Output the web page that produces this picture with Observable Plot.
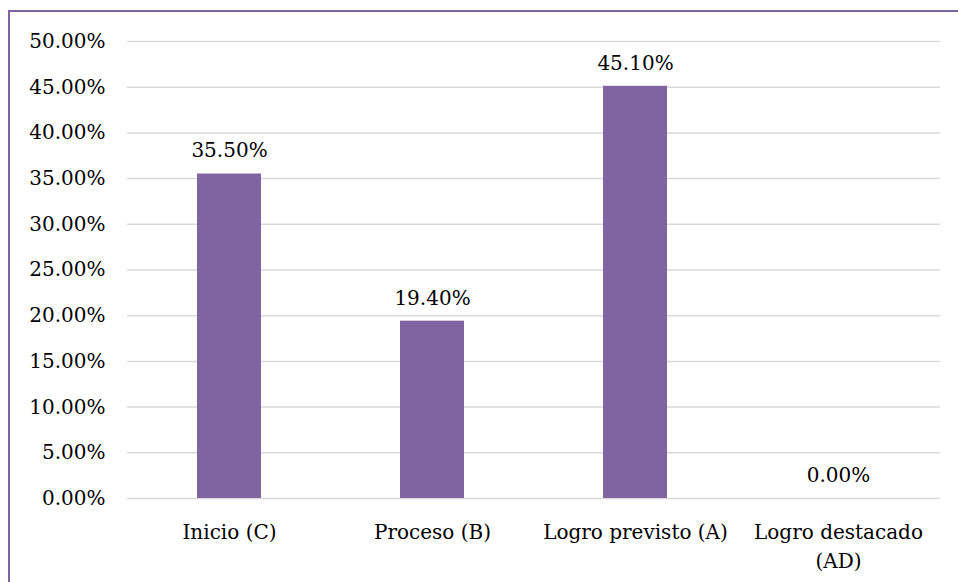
<!DOCTYPE html>
<html>
<head>
<meta charset="utf-8">
<script src="https://cdn.jsdelivr.net/npm/d3@7"></script>
<script src="https://cdn.jsdelivr.net/npm/@observablehq/plot@0.6"></script>
<style>
  html, body { margin: 0; padding: 0; background: #fff; }
  #wrap { position: relative; width: 958px; height: 582px; overflow: hidden; }
  #frame { position: absolute; left: 8px; top: 10px; width: 1000px; height: 700px;
           border-left: 2.5px solid #8064A2; border-top: 2.5px solid #8064A2; box-sizing: border-box; }
  #chart { position: absolute; left: 0; top: 0; }
</style>
</head>
<body>
<div id="wrap">
  <div id="frame"></div>
  <div id="chart"></div>
</div>
<script>
const categories = ["Inicio (C)", "Proceso (B)", "Logro previsto (A)", "Logro destacado\n(AD)"];
const values = [0.355, 0.194, 0.451, 0.0];
const yTicks = [0, 0.05, 0.10, 0.15, 0.20, 0.25, 0.30, 0.35, 0.40, 0.45, 0.50];

const data = categories.map((c, i) => ({category: c, value: values[i]}));
const pct = d3.format(".2%");
const font = "'DejaVu Serif', serif";

const chart = Plot.plot({
  width: 958,
  height: 582,
  marginLeft: 127,
  marginRight: 18,
  marginTop: 41,
  marginBottom: 84,
  style: {fontFamily: font, fontSize: "20px", color: "#000", background: "transparent"},
  x: {domain: categories, paddingInner: 0.685, paddingOuter: 0.3425, label: null},
  y: {domain: [0, 0.5], label: null},
  marks: [
    Plot.gridY(yTicks, {stroke: "#d9d9d9", strokeOpacity: 1, strokeWidth: 1.5}),
    Plot.axisY(yTicks, {tickFormat: pct, tickSize: 0, tickPadding: 22, fontSize: 20, fill: "#000", label: null}),
    Plot.axisX({tickSize: 0, tickPadding: 0, fontSize: 20, fill: "#000", lineHeight: 1.45, dy: 20, label: null, textAnchor: "middle"}),
    Plot.barY(data, {x: "category", y: "value", fill: "#8064A2"}),
    Plot.text(data, {x: "category", y: "value", text: d => pct(d.value), dy: -23, fontSize: 20, fill: "#000", lineAnchor: "middle"})
  ]
});
document.getElementById("chart").appendChild(chart);
</script>
</body>
</html>
